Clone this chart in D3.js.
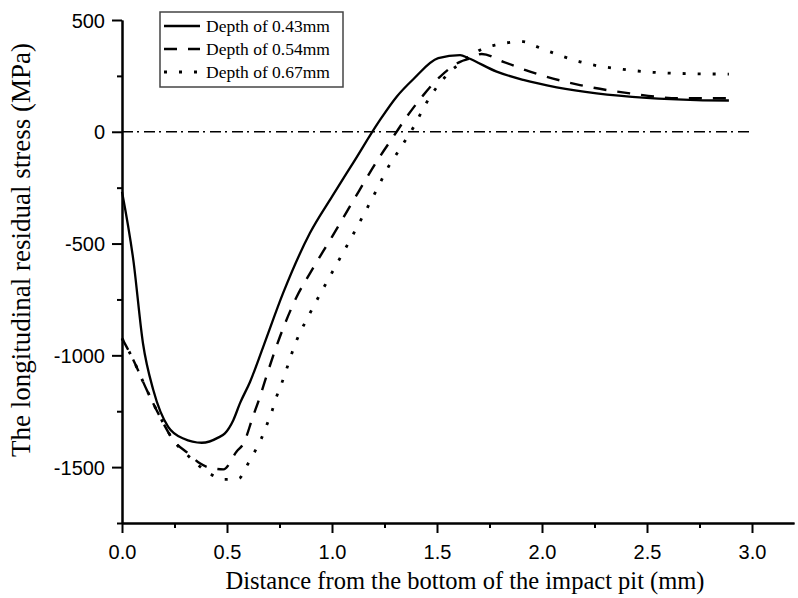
<!DOCTYPE html>
<html>
<head>
<meta charset="utf-8">
<script src="https://cdn.jsdelivr.net/npm/d3@7"></script>
<style>
  body { margin: 0; background: #fff; }
  .tickLabel { font-family: "Liberation Sans", Arial, sans-serif; font-size: 20px; fill: #000; }
  .axisText { font-family: "Liberation Serif", "Times New Roman", serif; font-size: 24.5px; fill: #000; }
  .legendText { font-family: "Liberation Serif", "Times New Roman", serif; font-size: 17.5px; fill: #000; }
</style>
</head>
<body>
<div id="chart"></div>
<script>
// Data
var seriesNames = ["Depth of 0.43mm", "Depth of 0.54mm", "Depth of 0.67mm"];

var x043 = [0, 0.054, 0.1, 0.149, 0.22, 0.292, 0.38, 0.46, 0.49, 0.53, 0.562, 0.61, 0.672, 0.767, 0.895, 1.0, 1.1, 1.228, 1.308, 1.387, 1.506, 1.61, 1.65, 1.784, 1.911, 2.07, 2.26, 2.498, 2.736, 2.89];
var y043 = [-268, -574, -947, -1155, -1320, -1372, -1391, -1367, -1349, -1290, -1214, -1118, -963, -722, -453, -290, -140, 52, 157, 235, 329, 343, 329, 269, 232, 199, 172, 152, 142, 140];

var x054 = [0, 0.054, 0.118, 0.181, 0.244, 0.316, 0.371, 0.411, 0.483, 0.546, 0.578, 0.625, 0.657, 0.689, 0.752, 0.832, 0.895, 1.0, 1.1, 1.228, 1.292, 1.356, 1.435, 1.514, 1.61, 1.657, 1.713, 1.816, 1.943, 2.181, 2.419, 2.657, 2.89];
var y054 = [-924, -1021, -1155, -1275, -1379, -1439, -1483, -1501, -1510, -1430, -1395, -1270, -1185, -1090, -917, -738, -633, -470, -310, -111, -22, 67, 164, 246, 313, 328, 348, 313, 269, 209, 172, 150, 150];

var x067 = [0, 0.054, 0.118, 0.181, 0.244, 0.316, 0.416, 0.486, 0.557, 0.594, 0.629, 0.662, 0.689, 0.713, 0.736, 0.76, 0.832, 0.895, 1.0, 1.1, 1.228, 1.26, 1.3, 1.348, 1.388, 1.427, 1.467, 1.514, 1.562, 1.61, 1.665, 1.72, 1.776, 1.84, 1.911, 1.975, 2.038, 2.102, 2.181, 2.244, 2.387, 2.53, 2.657, 2.89];
var y067 = [-924, -1021, -1155, -1275, -1379, -1450, -1528, -1555, -1551, -1495, -1436, -1376, -1312, -1253, -1185, -1126, -932, -812, -630, -460, -231, -171, -111, -40, 20, 90, 157, 217, 269, 306, 343, 373, 388, 399, 403, 381, 358, 336, 313, 299, 279, 266, 261, 258];

var xTicks = [0, 0.5, 1.0, 1.5, 2.0, 2.5, 3.0];
var xMinorTicks = [0.25, 0.75, 1.25, 1.75, 2.25, 2.75];
var yTicks = [-1500, -1000, -500, 0, 500];
var yMinorTicks = [-1750, -1250, -750, -250, 250];

var svgWidth = 798;
var svgHeight = 598;

var svg = d3.select("#chart")
  .append("svg")
  .attr("width", svgWidth)
  .attr("height", svgHeight);

// Scales
var xScale = d3.scaleLinear()
  .domain([0, 3.2])
  .range([122, 794]);

var yScale = d3.scaleLinear()
  .domain([-1750, 500])
  .range([523, 20]);

// Axes (Origin style: outward ticks, minor ticks shorter)
var xAxisG = svg.append("g")
  .attr("transform", `translate(0, ${yScale(-1750)})`)
  .call(d3.axisBottom(xScale).tickValues(xTicks).tickSize(10).tickSizeOuter(0).tickFormat(d3.format(".1f")));

svg.append("g")
  .attr("transform", `translate(0, ${yScale(-1750)})`)
  .call(d3.axisBottom(xScale).tickValues(xMinorTicks).tickSize(5).tickSizeOuter(0).tickFormat(""));

var yAxisG = svg.append("g")
  .attr("transform", `translate(${xScale(0)}, 0)`)
  .call(d3.axisLeft(yScale).tickValues(yTicks).tickSize(10).tickSizeOuter(0).tickFormat(d => String(d)));

svg.append("g")
  .attr("transform", `translate(${xScale(0)}, 0)`)
  .call(d3.axisLeft(yScale).tickValues(yMinorTicks).tickSize(5).tickSizeOuter(0).tickFormat(""));

svg.selectAll(".domain, .tick line")
  .attr("stroke", "#000")
  .attr("stroke-width", 2);

xAxisG.selectAll(".tick text")
  .attr("class", "tickLabel")
  .attr("y", 22)
  .attr("dy", "0.71em")
  .attr("font-size", null)
  .attr("font-family", null);

yAxisG.selectAll(".tick text")
  .attr("class", "tickLabel")
  .attr("x", -17)
  .attr("dy", "0.35em")
  .attr("font-size", null)
  .attr("font-family", null);

// Zero reference line
svg.append("line")
  .attr("x1", xScale(0))
  .attr("x2", xScale(3.0))
  .attr("y1", yScale(0))
  .attr("y2", yScale(0))
  .attr("stroke", "#000")
  .attr("stroke-width", 1.6)
  .attr("stroke-dasharray", "11,4,2,5");

// Curves
var line = d3.line()
  .x(d => xScale(d[0]))
  .y(d => yScale(d[1]))
  .curve(d3.curveMonotoneX);

var series = [
  { name: seriesNames[0], xs: x043, ys: y043, dash: null, width: 2.3 },
  { name: seriesNames[1], xs: x054, ys: y054, dash: "13,11", width: 2.4 },
  { name: seriesNames[2], xs: x067, ys: y067, dash: "3,12", width: 2.8 }
];

series.forEach(function(s) {
  var pts = s.xs.map((v, i) => [v, s.ys[i]]);
  svg.append("path")
    .datum(pts)
    .attr("fill", "none")
    .attr("stroke", "#000")
    .attr("stroke-width", s.width)
    .attr("stroke-dasharray", s.dash)
    .attr("d", line);
});

// Legend
var legend = svg.append("g");

legend.append("rect")
  .attr("x", 160)
  .attr("y", 12)
  .attr("width", 183)
  .attr("height", 75)
  .attr("fill", "#fff")
  .attr("stroke", "#444")
  .attr("stroke-width", 1.5);

series.forEach(function(s, i) {
  var ly = 26 + i * 23;
  legend.append("line")
    .attr("x1", 164)
    .attr("x2", 200)
    .attr("y1", ly)
    .attr("y2", ly)
    .attr("stroke", "#000")
    .attr("stroke-width", s.width)
    .attr("stroke-dasharray", s.dash);
  legend.append("text")
    .attr("class", "legendText")
    .attr("x", 206)
    .attr("y", ly + 6)
    .text(s.name);
});

// Axis titles
svg.append("text")
  .attr("class", "axisText")
  .style("font-size", "27px")
  .attr("text-anchor", "middle")
  .attr("transform", "translate(30, 250) rotate(-90)")
  .text("The longitudinal residual stress (MPa)");

svg.append("text")
  .attr("class", "axisText")
  .attr("text-anchor", "middle")
  .attr("x", 465)
  .attr("y", 589)
  .text("Distance from the bottom of the impact pit (mm)");
</script>
</body>
</html>
